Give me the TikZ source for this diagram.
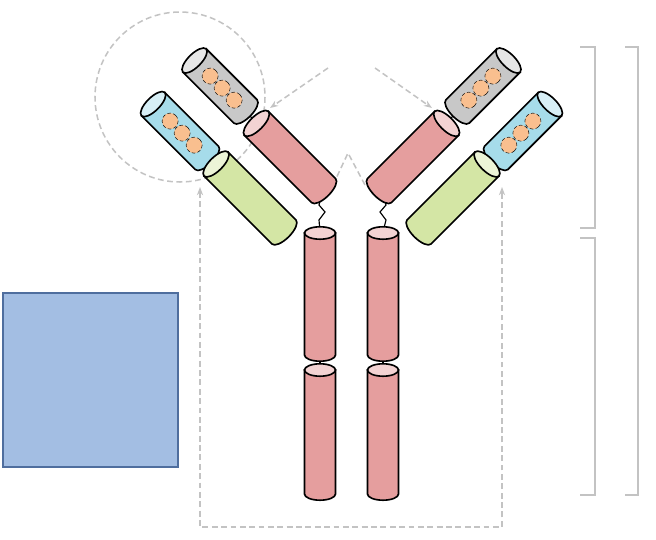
\documentclass[tikz,border=0pt]{standalone}
\usepackage{tikz}
\usetikzlibrary{arrows.meta, positioning, calc}
\definecolor{hcolor}{RGB}{229, 158, 158}
\definecolor{vhcolor}{RGB}{200, 200, 200}
\definecolor{vlcolor}{RGB}{166, 220, 234}
\definecolor{clcolor}{RGB}{212, 230, 165}
\definecolor{cdrcolor}{RGB}{249, 191, 143}
\definecolor{boxcolor}{RGB}{163, 190, 227}
\definecolor{boxedge}{RGB}{79, 110, 158}
\definecolor{guidecolor}{RGB}{195, 195, 195}

% cylinder segment: centre x, centre y, rotation, length, width, colour
\newcommand{\cylseg}[6]{
  \begin{scope}[shift={(#1,#2)}, rotate=#3]
    \draw[line width=1.4pt, fill=#6] (-#5/2,-#4/2) -- (-#5/2,#4/2)
      arc[start angle=180, end angle=0, x radius=#5/2, y radius=#5/5]
      -- (#5/2,-#4/2) -- cycle;
    \draw[line width=1.4pt, fill=#6!45] (0,-#4/2) ellipse[x radius=#5/2, y radius=#5/5];
  \end{scope}
}
% three CDR loops on a variable domain
\newcommand{\cdrs}[4]{
  \begin{scope}[shift={(#1,#2)}, rotate=#3]
    \foreach \t in {-14,3,20}
      \draw[densely dashed, fill=cdrcolor] (0,\t+#4) circle[radius=8];
  \end{scope}
}

\begin{document}
\begin{tikzpicture}[x=0.03cm, y=-0.03cm,
    guide/.style={guidecolor, line width=1.3pt, dash pattern=on 5pt off 3pt},
    arm/.style={-{Stealth[length=7pt]}, guidecolor, line width=1.3pt, dash pattern=on 5pt off 3pt},
    brace/.style={guidecolor, line width=1.3pt},
    link/.style={line width=1pt}]
    \useasboundingbox (0,0) rectangle (656,539);

    % Fab region marker
    \draw[guide] (180,97) circle[radius=85];
    \draw[arm] (328,68) -- (270,108);
    \draw[arm] (375,68) -- (432,108);
    \draw[guide] (333,185) -- (348,153) -- (365,185);
    \draw[arm, {Stealth[length=7pt]}-{Stealth[length=7pt]}] (200,187) -- (200,527) -- (502,527) -- (502,187);

    % Linkers
    \draw[link] (245,112) -- (258,123);
    \draw[link] (205,158) -- (218,164);
    \draw[link] (458,112) -- (445,123);
    \draw[link] (498,158) -- (485,164);
    \draw[link] (322,192) -- (319,205) -- (325,212) -- (319,220) -- (320,232);
    \draw[link] (383,192) -- (386,205) -- (380,212) -- (386,220) -- (383,232);
    \draw[link] (320,355) -- (320,372);
    \draw[link] (383,355) -- (383,372);

    % Left arm
    \cylseg{220}{86}{45}{72}{33}{vhcolor}
    \cdrs{220}{86}{45}{0}
    \cylseg{180}{131}{45}{76}{33}{vlcolor}
    \cdrs{180}{131}{45}{0}
    \cylseg{290}{157}{45}{95}{34}{hcolor}
    \cylseg{250}{198}{45}{96}{34}{clcolor}

    % Right arm
    \cylseg{483}{86}{-45}{72}{33}{vhcolor}
    \cdrs{483}{86}{-45}{0}
    \cylseg{523}{131}{-45}{76}{33}{vlcolor}
    \cdrs{523}{131}{-45}{0}
    \cylseg{413}{157}{-45}{95}{34}{hcolor}
    \cylseg{453}{198}{-45}{96}{34}{clcolor}

    % Fc stem
    \cylseg{320}{294}{0}{122}{31}{hcolor}
    \cylseg{383}{294}{0}{122}{31}{hcolor}
    \cylseg{320}{432}{0}{124}{31}{hcolor}
    \cylseg{383}{432}{0}{124}{31}{hcolor}

    % Brackets
    \draw[brace] (580,47) -- (595,47) -- (595,228) -- (580,228);
    \draw[brace] (580,238) -- (595,238) -- (595,495) -- (580,495);
    \draw[brace] (625,47) -- (638,47) -- (638,495) -- (625,495);

    % Blue block
    \node[draw=boxedge, line width=1.6pt, fill=boxcolor, minimum width=175*0.03cm, minimum height=174*0.03cm, inner sep=0pt] (block) at (90.5,380) {};
\end{tikzpicture}
\end{document}
